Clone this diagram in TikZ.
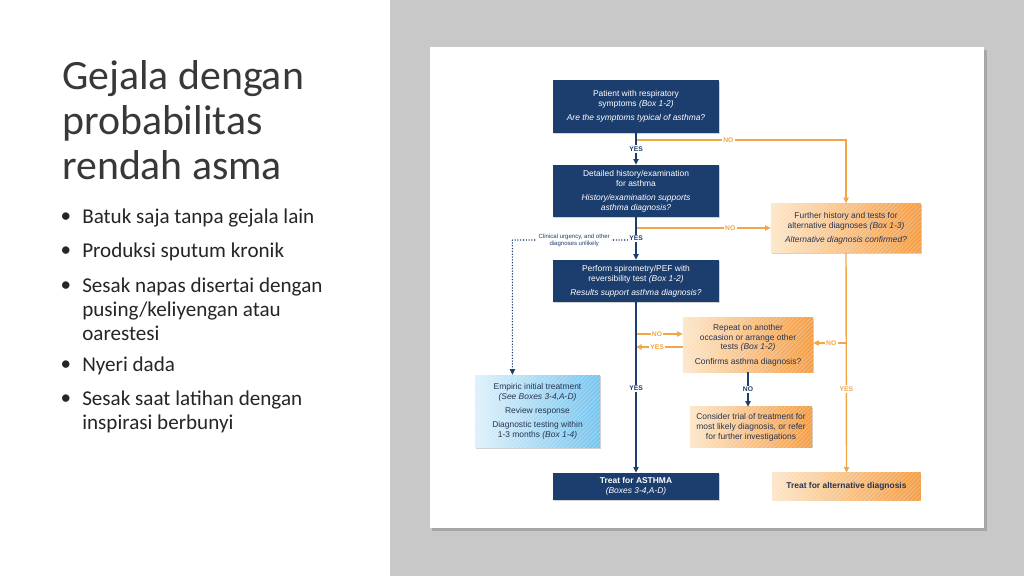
\documentclass[tikz,border=0pt]{standalone}
\usepackage{fontspec}
\setmainfont{Liberation Sans}
\newfontfamily\slidefont{Carlito}
\usepackage{xcolor}
\definecolor{navybox}{RGB}{28,62,110}
\definecolor{orangeline}{RGB}{242,166,72}
\definecolor{orangelight}{RGB}{253,230,200}
\definecolor{orangedark}{RGB}{244,158,70}
\definecolor{skylight}{RGB}{222,241,251}
\definecolor{skydark}{RGB}{118,197,238}
\definecolor{boxtext}{RGB}{40,52,80}
\definecolor{panelgrey}{RGB}{200,200,200}
\usetikzlibrary{arrows.meta, positioning, calc, shadows, patterns}

\begin{document}
\begin{tikzpicture}[x=0.025cm, y=-0.025cm,
	navy/.style={rectangle, fill=navybox, text=white, align=center, inner sep=2pt,
	             font=\fontsize{6}{7}\selectfont,
	             drop shadow={shadow xshift=0.6pt, shadow yshift=-0.8pt, opacity=0.35}},
	orangebox/.style={rectangle, left color=orangelight, right color=orangedark, text=boxtext,
	             align=center, inner sep=2pt, font=\fontsize{6}{7}\selectfont,
	             drop shadow={shadow xshift=0.6pt, shadow yshift=-0.8pt, opacity=0.35},
	             postaction={pattern=north east lines, pattern color=white, opacity=0.3}},
	skybox/.style={rectangle, left color=skylight, right color=skydark, text=boxtext,
	             align=center, inner sep=2pt, font=\fontsize{6}{7}\selectfont,
	             drop shadow={shadow xshift=0.6pt, shadow yshift=-0.8pt, opacity=0.35},
	             postaction={pattern=north east lines, pattern color=white, opacity=0.3}},
	navyarr/.style={-{Triangle[length=1.4mm, width=1.3mm]}, draw=navybox, line width=1pt},
	orarr/.style={-{Triangle[length=1.4mm, width=1.3mm]}, draw=orangeline, line width=1pt},
	dotline/.style={-{Triangle[length=1.4mm, width=1.3mm]}, draw=navybox, line width=1.1pt,
	             dash pattern=on 0pt off 2pt, line cap=round},
	yn/.style={font=\fontsize{4.8}{5.5}\selectfont\bfseries, fill=white, inner sep=1pt},
	bullet/.style={font=\slidefont\fontsize{15}{17}\selectfont, text=black!85, inner sep=0pt},
	]
\useasboundingbox (0,0) rectangle (1024,576);
\fill[white] (0,0) rectangle (390,576);
\fill[panelgrey] (390,0) rectangle (1024,576);
\fill[black!35] (432,50) rectangle (987,531);
\fill[white] (430,47) rectangle (984,528);

% slide text
\node[font=\slidefont\fontsize{29.7}{32}\selectfont, text=black!78, align=left, anchor=west,
      inner sep=0pt] (title) at (62,120) {Gejala dengan\\probabilitas\\rendah asma};
\foreach \yy/\txt [count=\i] in {218/{Batuk saja tanpa gejala lain},
    252/{Produksi sputum kronik},
    287/{Sesak napas disertai dengan\\pusing/keliyengan atau\\oarestesi},
    366/{Nyeri dada},
    400/{Sesak saat latihan dengan\\inspirasi berbunyi}} {
  \node[bullet] (dot\i) at (66,\yy) {\textbullet};
  \node[bullet, align=left, anchor=north west] (item\i) at (82,\yy-9) {\txt};
}

% boxes
\node[navy, minimum width=4.15cm, minimum height=1.3cm] (p1) at (636,106.5)
  {Patient with respiratory\\symptoms \textit{(Box 1-2)}\\[3pt]\textit{Are the symptoms typical of asthma?}};
\node[navy, minimum width=4.15cm, minimum height=1.3cm] (p2) at (636,191)
  {Detailed history/examination\\for asthma\\[3pt]\textit{History/examination supports}\\\textit{asthma diagnosis?}};
\node[navy, minimum width=4.15cm, minimum height=1.05cm] (p3) at (636,281)
  {Perform spirometry/PEF with\\reversibility test \textit{(Box 1-2)}\\[3pt]\textit{Results support asthma diagnosis?}};
\node[navy, minimum width=4.15cm, minimum height=0.68cm] (p4) at (636,486.5)
  {\textbf{Treat for ASTHMA}\\\textit{(Boxes 3-4,A-D)}};
\node[orangebox, minimum width=3.75cm, minimum height=1.22cm] (alt) at (846,228)
  {Further history and tests for\\alternative diagnoses \textit{(Box 1-3)}\\[3pt]\textit{Alternative diagnosis confirmed?}};
\node[orangebox, minimum width=3.25cm, minimum height=1.35cm] (rep) at (748,345)
  {Repeat on another\\occasion or arrange other\\tests \textit{(Box 1-2)}\\[3pt]Confirms asthma diagnosis?};
\node[orangebox, minimum width=3.05cm, minimum height=1cm] (cons) at (751,427)
  {Consider trial of treatment for\\most likely diagnosis, or refer\\for further investigations};
\node[orangebox, minimum width=3.7cm, minimum height=0.68cm] (altT) at (846.5,486.5)
  {\textbf{Treat for alternative diagnosis}};
\node[skybox, minimum width=3.12cm, minimum height=1.82cm] (emp) at (537.5,411.5)
  {Empiric initial treatment\\\textit{(See Boxes 3-4,A-D)}\\[3pt]Review response\\[3pt]Diagnostic testing within\\1-3 months \textit{(Box 1-4)}};

% branch points on the main line
\coordinate (n1) at (636,140);
\coordinate (n2) at (636,228);
\coordinate (d1) at (636,240);
\coordinate (n3) at (636,334);
\coordinate (y3) at (636,347);
\coordinate (n4) at (846,343);

% orange and dotted branches
\draw[orarr] (n1) -| (alt.north) node[yn, text=orangeline, pos=0.22] {NO};
\draw[orarr] (n2) -- (alt.west) node[yn, text=orangeline, pos=0.7] {NO};
\draw[dotline] (d1) -| ($(emp.north west)!0.3!(emp.north east)$)
  node[yn, font=\fontsize{4.3}{5}\selectfont, text=navybox, align=center, pos=0.25]
  {Clinical urgency, and other\\diagnoses unlikely};
\draw[orarr] (n3) -- (n3 -| rep.west) node[yn, text=orangeline, pos=0.45] {NO};
\draw[orarr] (rep.west |- y3) -- (y3) node[yn, text=orangeline, pos=0.55] {YES};
\draw[orarr] (alt.south) -- (altT.north) node[yn, text=orangeline, pos=0.62] {YES};
\draw[orarr] (n4) -- (n4 -| rep.east) node[yn, text=orangeline, pos=0.45] {NO};

% main line
\draw[navyarr] (p1.south) -- (p2.north) node[yn, text=navybox, midway] {YES};
\draw[navyarr] (p2.south) -- (p3.north) node[yn, text=navybox, pos=0.5] {YES};
\draw[navyarr] (p3.south) -- (p4.north) node[yn, text=navybox, pos=0.505] {YES};
\draw[navyarr] (rep.south) -- (rep.south |- cons.north) node[yn, text=navybox, midway] {NO};
\end{tikzpicture}
\end{document}
